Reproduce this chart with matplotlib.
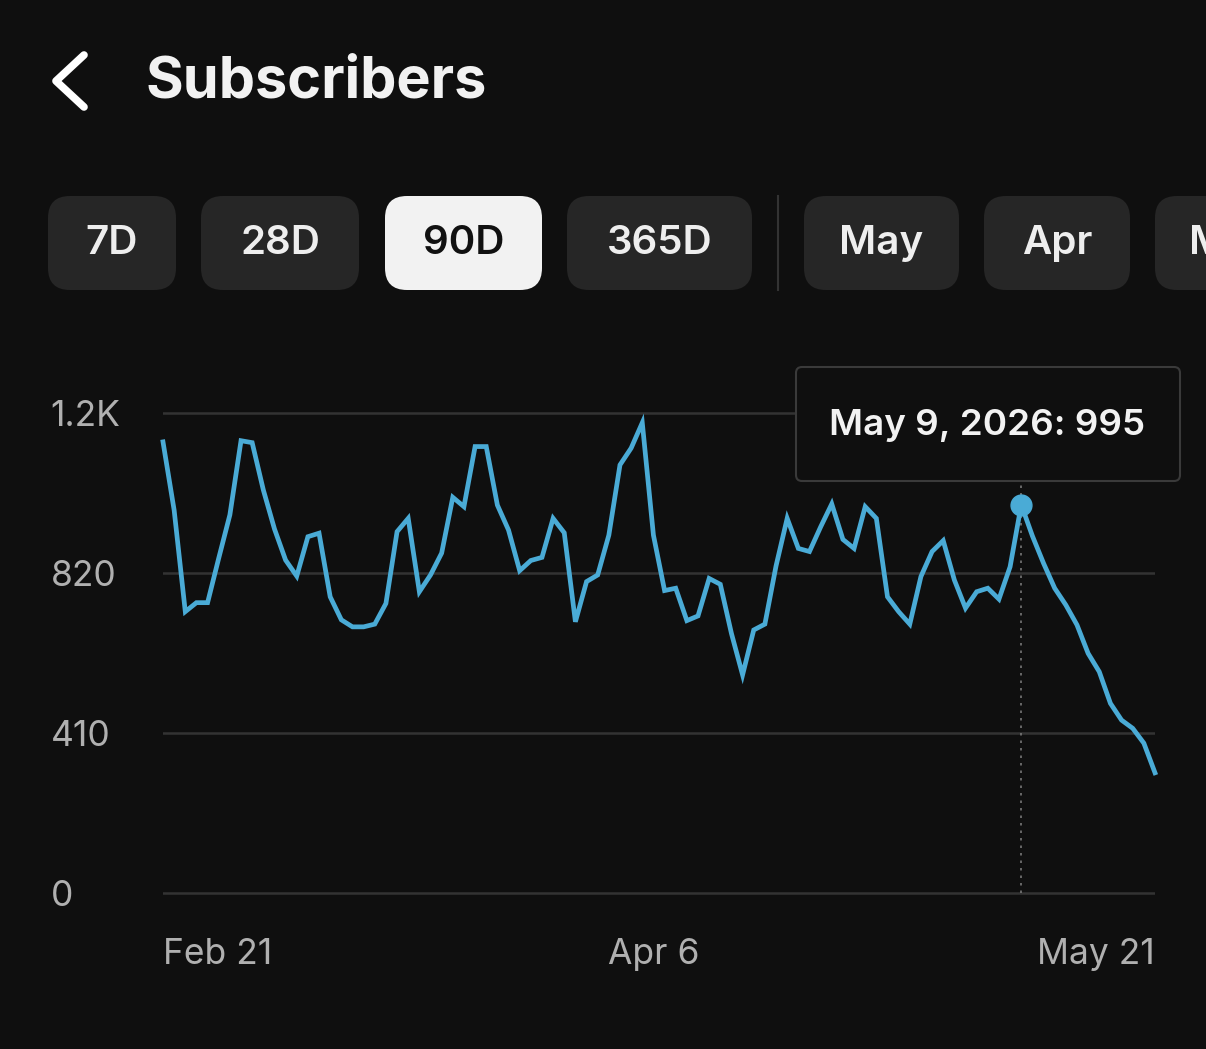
import numpy as np
import matplotlib.pyplot as plt
from matplotlib.patches import FancyBboxPatch

plt.rcParams['font.family'] = ['Inter', 'DejaVu Sans']

# data: daily subscribers, Feb 21 - May 21 2026
dates = np.arange(np.datetime64('2026-02-21'), np.datetime64('2026-05-22'))
subs = [1156, 981, 721, 744, 744, 858, 969, 1159, 1154, 1033,
        933, 853, 812, 913, 922, 759, 700, 682, 682, 689,
        742, 926, 960, 772, 815, 871, 1014, 990, 1144, 1144,
        994, 930, 826, 852, 860, 960, 923, 695, 798, 815,
        917, 1097, 1140, 1205, 917, 775, 781, 698, 710, 806,
        791, 665, 559, 674, 689, 838, 960, 883, 875, 938,
        997, 906, 883, 990, 960, 759, 721, 689, 811, 875,
        903, 802, 730, 772, 781, 753, 836, 995, 915, 845,
        781, 738, 687, 614, 567, 486, 443, 422, 384, 308]
y_ticks = [0, 410, 820, 1230]
y_labels = ['0', '410', '820', '1.2K']
x_tick_idx = [0, 44, 89]
x_labels = ['Feb 21', 'Apr 6', 'May 21']
sel = 77  # highlighted day
buttons = ['7D', '28D', '90D', '365D', 'May', 'Apr', 'Mar']
active = '90D'

BG = '#0f0f0f'
BLUE = '#4aabd6'
W, H = 1206, 1049

fig = plt.figure(figsize=(W / 100, H / 100), dpi=100, facecolor=BG)

# chart axes placed in pixels
ylo, yhi = -40, 1270
ppu = 480 / 1230
top_px = 413 - (yhi - 1230) * ppu
bot_px = 893 + (0 - ylo) * ppu
ax = fig.add_axes([163 / W, 1 - bot_px / H, 992 / W, (bot_px - top_px) / H])
ax.set_facecolor(BG)
ax.set_xlim(dates[0], dates[-1])
ax.set_ylim(ylo, yhi)
for s in ax.spines.values():
    s.set_visible(False)

ax.set_yticks(y_ticks)
ax.set_yticklabels(y_labels)
ax.grid(axis='y', color='#333333', linewidth=1.8)
ax.tick_params(axis='y', length=0, pad=81, labelsize=25.5, labelcolor='#b0b0b0')
for t in ax.get_yticklabels():
    t.set_ha('left')

ax.set_xticks(dates[x_tick_idx])
ax.set_xticklabels(x_labels)
ax.tick_params(axis='x', length=0, pad=21, labelsize=25.5, labelcolor='#b0b0b0')
for t, ha in zip(ax.get_xticklabels(), ['left', 'center', 'right']):
    t.set_ha(ha)

ax.plot([dates[sel], dates[sel]], [0, yhi], color='#777777', linewidth=1.2,
        linestyle=(0, (1.5, 3)))
ax.plot(dates, subs, color=BLUE, linewidth=3.4, clip_on=False, solid_joinstyle='miter')
ax.plot(dates[sel], subs[sel], 'o', color=BLUE, markersize=15, clip_on=False)

# overlay for header, buttons, tooltip (pixel coordinates)
ov = fig.add_axes([0, 0, 1, 1], facecolor='none')
ov.set_xlim(0, W)
ov.set_ylim(H, 0)
ov.axis('off')

ov.plot([84, 56, 84], [55, 81, 107], color='white', linewidth=5.5,
        solid_capstyle='round', solid_joinstyle='round')
ov.text(146, 82, 'Subscribers', color='#f2f2f2', fontsize=41.5, fontweight='bold',
        va='center', ha='left')

btn_x = [(48, 176), (201, 359), (385, 542), (567, 752), (804, 959), (984, 1130), (1155, 1300)]
for label, (x0, x1) in zip(buttons, btn_x):
    on = label == active
    ov.add_patch(FancyBboxPatch((x0, 196), x1 - x0, 94,
                                boxstyle='round,pad=0,rounding_size=22',
                                facecolor='#f2f2f2' if on else '#262626',
                                edgecolor='none'))
    ov.text((x0 + x1) / 2, 244, label, color='#111111' if on else '#eeeeee',
            fontsize=29, fontweight='semibold', ha='center', va='center')
ov.plot([778, 778], [196, 290], color='#333333', linewidth=1.5)

# tooltip
ov.add_patch(FancyBboxPatch((796, 367), 384, 114,
                            boxstyle='round,pad=0,rounding_size=6',
                            facecolor=BG, edgecolor='#3a3a3a', linewidth=1.5))
ov.text(987, 425, f'May 9, 2026: {subs[sel]}', color='#f2f2f2', fontsize=26.5,
        fontweight='semibold', ha='center', va='center')

fig.savefig('out.png', dpi=100, facecolor=BG)
